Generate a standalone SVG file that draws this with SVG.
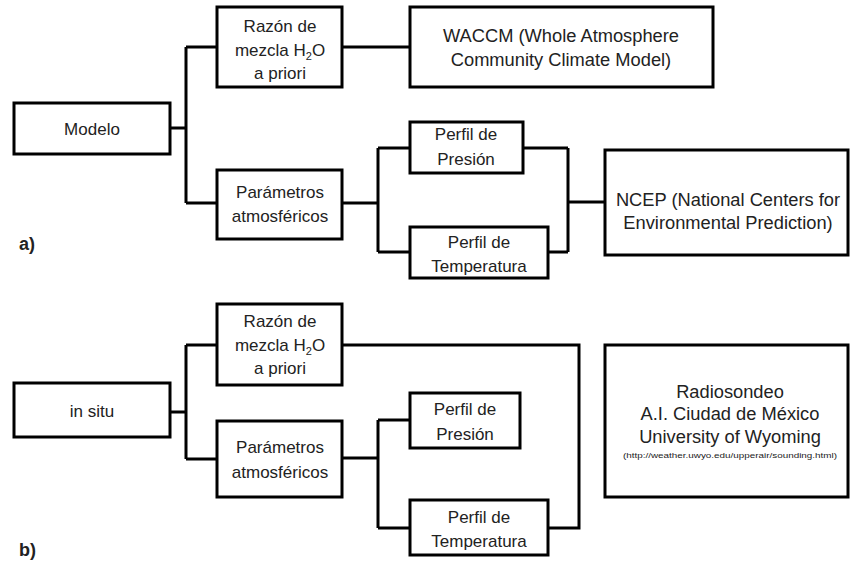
<svg xmlns="http://www.w3.org/2000/svg" width="851" height="562" viewBox="0 0 851 562">
<style>
.box{fill:#fff;stroke:#000;stroke-width:3}
.ln{fill:none;stroke:#000;stroke-width:3}
text{font-family:"Liberation Sans",Arial,sans-serif;font-size:17px;fill:#222;text-anchor:middle}
.big{font-size:18.3px}
.lab{font-weight:bold;text-anchor:start;font-size:18px}
.url{font-size:8px}
</style>
<rect width="851" height="562" fill="#fff"/>
<g id="connectors">
<path class="ln" d="M170,128H186M186,47V203M186,47H217M186,203H217"/>
<path class="ln" d="M342,47H410"/>
<path class="ln" d="M342,203H378M378,148V252M378,148H410M378,252H410"/>
<path class="ln" d="M523,148H568M548,252H568M568,148V252M568,202H605"/>
<path class="ln" d="M170,412H186M186,345V459M186,345H217M186,459H217"/>
<path class="ln" d="M342,345H579V528H548"/>
<path class="ln" d="M342,458H378M378,420V528M378,420H410M378,528H410"/>
</g>
<g id="modelo"><rect class="box" x="14" y="103" width="156" height="51"/><text x="92" y="135">Modelo</text></g>
<g id="razon-a"><rect class="box" x="217" y="7" width="125" height="80"/><text x="280" y="32">Razón de</text><text x="280" y="56">mezcla H<tspan font-size="11" dy="4">2</tspan><tspan dy="-4">O</tspan></text><text x="280" y="79">a priori</text></g>
<g id="param-a"><rect class="box" x="217" y="170" width="125" height="69"/><text x="280" y="198">Parámetros</text><text x="280" y="222">atmosféricos</text></g>
<g id="waccm"><rect class="box" x="410" y="7" width="303" height="80"/><text class="big" x="561" y="42">WACCM (Whole Atmosphere</text><text class="big" x="561" y="66">Community  Climate Model)</text></g>
<g id="presion-a"><rect class="box" x="410" y="122" width="113" height="51"/><text x="466" y="140">Perfil de</text><text x="466" y="165">Presión</text></g>
<g id="temp-a"><rect class="box" x="410" y="227" width="138" height="51"/><text x="479" y="248">Perfil de</text><text x="479" y="272">Temperatura</text></g>
<g id="ncep"><rect class="box" x="605" y="150" width="243" height="105"/><text class="big" x="728" y="206">NCEP (National Centers for</text><text class="big" x="728" y="229">Environmental  Prediction)</text></g>
<g id="label-a"><text class="lab" x="19" y="250">a)</text></g>
<g id="insitu"><rect class="box" x="14" y="383" width="156" height="54"/><text x="92" y="417">in situ</text></g>
<g id="razon-b"><rect class="box" x="217" y="304" width="125" height="81"/><text x="280" y="327">Razón de</text><text x="280" y="351">mezcla H<tspan font-size="11" dy="4">2</tspan><tspan dy="-4">O</tspan></text><text x="280" y="374">a priori</text></g>
<g id="param-b"><rect class="box" x="217" y="421" width="125" height="76"/><text x="280" y="453">Parámetros</text><text x="280" y="478">atmosféricos</text></g>
<g id="presion-b"><rect class="box" x="410" y="393" width="110" height="55"/><text x="465" y="415">Perfil de</text><text x="465" y="440">Presión</text></g>
<g id="temp-b"><rect class="box" x="410" y="500" width="138" height="55"/><text x="479" y="523">Perfil de</text><text x="479" y="547">Temperatura</text></g>
<g id="radiosondeo"><rect class="box" x="605" y="345" width="243" height="152"/><text class="big" x="730" y="398">Radiosondeo</text><text class="big" x="730" y="420">A.I. Ciudad de México</text><text class="big" x="730" y="443">University of Wyoming</text><text class="url" x="730" y="458" textLength="214" lengthAdjust="spacingAndGlyphs">(http://weather.uwyo.edu/upperair/sounding.html)</text></g>
<g id="label-b"><text class="lab" x="19" y="556">b)</text></g>
</svg>
